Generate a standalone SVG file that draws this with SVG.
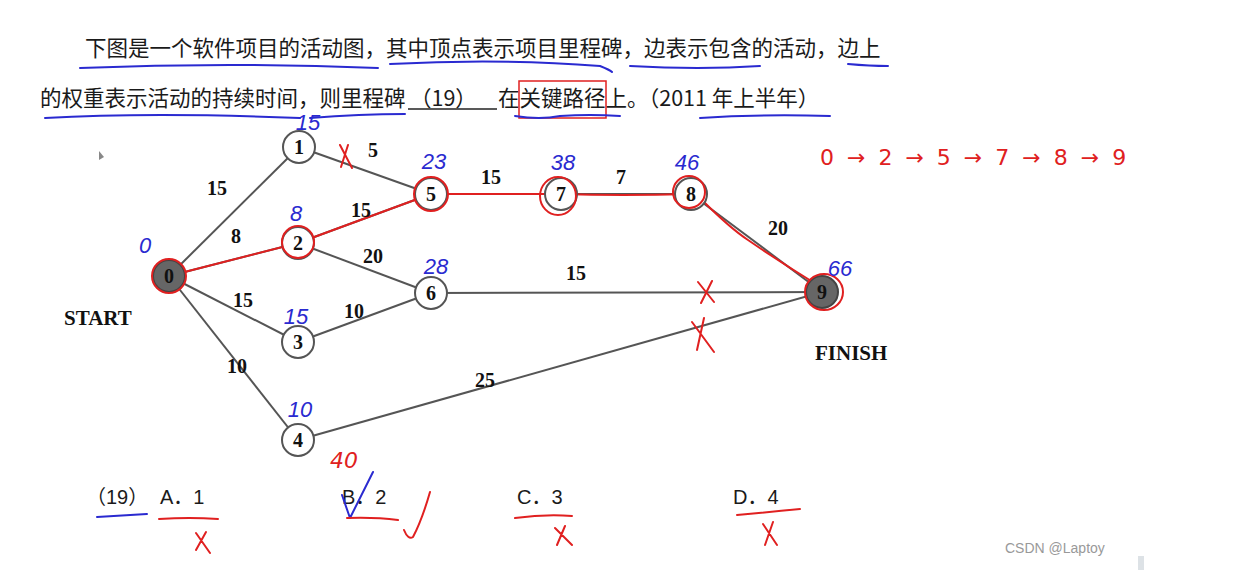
<svg xmlns="http://www.w3.org/2000/svg" width="1238" height="587" viewBox="0 0 1238 587">
<style>
.q{font-family:"Noto Sans CJK SC","Noto Sans",sans-serif;font-size:21.5px;fill:#1a1a1a}
.e{stroke:#555;stroke-width:2;fill:none}
.r{stroke:#e02020;stroke-width:2;fill:none;stroke-linecap:round;stroke-linejoin:round}
.b{stroke:#2a2ad0;stroke-width:2;fill:none;stroke-linecap:round}
.nc{fill:#fff;stroke:#555;stroke-width:2}
.nd{fill:#666;stroke:#444;stroke-width:2}
.nt{font-family:"Liberation Serif",serif;font-weight:bold;font-size:20px;text-anchor:middle;fill:#111}
.w{font-family:"Liberation Serif",serif;font-weight:bold;font-size:20px;text-anchor:middle;fill:#111}
.lb{font-family:"Liberation Serif",serif;font-weight:bold;font-size:21px;fill:#111}
.hb{font-family:"Liberation Sans",sans-serif;font-style:italic;font-size:22px;fill:#2a2ad0;text-anchor:middle}
.hr{font-family:"DejaVu Sans",sans-serif;font-size:22px;fill:#e02020}
.op{font-family:"Liberation Sans","Noto Sans CJK SC",sans-serif;font-size:20px;fill:#1a1a1a}
</style>
<rect width="1238" height="587" fill="#fff"/>

<!-- question text -->
<g id="question">
<text class="q" x="85" y="56">下图是一个软件项目的活动图，其中顶点表示项目里程碑，边表示包含的活动，边上</text>
<text class="q" x="40" y="106">的权重表示活动的持续时间，则里程碑</text>
<text class="q" x="410" y="106">（19）</text>
<line x1="408" y1="109" x2="497" y2="109" stroke="#222" stroke-width="1.5"/>
<text class="q" x="498" y="106">在关键路径上。（2011 年上半年）</text>
<rect x="519" y="81" width="87" height="37" fill="none" stroke="#e02020" stroke-width="1.5"/>
<path class="b" d="M80 68 Q230 62 378 68 M390 64 Q500 58 600 66 Q610 70 612 72 M630 66 Q700 70 760 66 M848 64 Q870 66 888 66 M45 118 Q150 112 300 118 M310 118 Q360 114 405 114 M515 116 Q540 120 560 116 Q590 114 620 116 M700 118 Q760 114 830 116"/>
</g>

<!-- connectors -->
<g id="edges">
<line class="e" x1="169" y1="276" x2="299" y2="147"/>
<line class="e" x1="169" y1="276" x2="298" y2="243"/>
<line class="e" x1="169" y1="276" x2="298" y2="342"/>
<line class="e" x1="169" y1="276" x2="298" y2="440"/>
<line class="e" x1="299" y1="147" x2="431" y2="194"/>
<line class="e" x1="298" y1="243" x2="431" y2="194"/>
<line class="e" x1="298" y1="243" x2="431" y2="293"/>
<line class="e" x1="298" y1="342" x2="431" y2="293"/>
<line class="e" x1="431" y1="194" x2="561" y2="194"/>
<line class="e" x1="561" y1="194" x2="691" y2="194"/>
<line class="e" x1="691" y1="194" x2="822" y2="292"/>
<line class="e" x1="431" y1="293" x2="822" y2="292"/>
<line class="e" x1="298" y1="440" x2="822" y2="292"/>
<path class="r" d="M169 276 L298 243 M298 243 Q360 220 431 194 M431 194 L561 194 M561 194 Q620 196 691 194 M704 202 Q730 228 748 240 Q780 262 816 284"/>
</g>

<g id="edge-labels">
<text class="w" x="217" y="195">15</text>
<text class="w" x="236" y="243">8</text>
<text class="w" x="243" y="307">15</text>
<text class="w" x="237" y="373">10</text>
<text class="w" x="373" y="157">5</text>
<text class="w" x="361" y="217">15</text>
<text class="w" x="373" y="263">20</text>
<text class="w" x="354" y="318">10</text>
<text class="w" x="491" y="184">15</text>
<text class="w" x="621" y="184">7</text>
<text class="w" x="778" y="235">20</text>
<text class="w" x="576" y="280">15</text>
<text class="w" x="485" y="387">25</text>
</g>

<g id="n0"><circle class="nd" cx="169" cy="276" r="16"/><text class="nt" x="169" y="283">0</text><circle class="r" cx="169" cy="276" r="17"/></g>
<g id="n1"><circle class="nc" cx="299" cy="147" r="16"/><text class="nt" x="299" y="154">1</text></g>
<g id="n2"><circle class="nc" cx="298" cy="243" r="16"/><text class="nt" x="298" y="250">2</text><circle class="r" cx="298" cy="242" r="16"/></g>
<g id="n3"><circle class="nc" cx="298" cy="342" r="16"/><text class="nt" x="298" y="349">3</text></g>
<g id="n4"><circle class="nc" cx="298" cy="440" r="16"/><text class="nt" x="298" y="447">4</text></g>
<g id="n5"><circle class="nc" cx="431" cy="194" r="16"/><text class="nt" x="431" y="201">5</text><circle class="r" cx="431" cy="194" r="17"/></g>
<g id="n6"><circle class="nc" cx="431" cy="293" r="16"/><text class="nt" x="431" y="300">6</text></g>
<g id="n7"><circle class="nc" cx="561" cy="194" r="16"/><text class="nt" x="561" y="201">7</text><ellipse class="r" cx="558" cy="196" rx="18" ry="19"/></g>
<g id="n8"><circle class="nc" cx="691" cy="194" r="16"/><text class="nt" x="691" y="201">8</text><circle class="r" cx="689" cy="192" r="16"/></g>
<g id="n9"><circle class="nd" cx="822" cy="292" r="16"/><text class="nt" x="822" y="299">9</text><ellipse class="r" cx="824" cy="292" rx="19" ry="18"/></g>

<g id="labels">
<text class="lb" x="64" y="325">START</text>
<text class="lb" x="815" y="360">FINISH</text>
</g>

<!-- handwritten annotations -->
<g id="notes">
<text class="hb" x="308" y="130">15</text>
<text class="hb" x="434" y="169">23</text>
<text class="hb" x="296" y="221">8</text>
<text class="hb" x="145" y="253" font-size="30">0</text>
<text class="hb" x="436" y="274" font-size="24">28</text>
<text class="hb" x="296" y="324">15</text>
<text class="hb" x="563" y="170">38</text>
<text class="hb" x="687" y="170">46</text>
<text class="hb" x="840" y="276" font-size="24">66</text>
<text class="hb" x="300" y="417">10</text>
<text class="hr" x="330" y="468" font-style="italic">40</text>
<text class="hr" x="820" y="165" font-size="32" letter-spacing="13">0→2→5→7→8→9</text>
<path class="r" d="M340 145 L352 168 M348 145 L341 167 M698 282 L714 302 M712 281 L701 303 M692 322 L714 352 M704 318 L697 350"/>
<path d="M99 151 L104 157 L99 160 Z" fill="#888"/>
</g>

<!-- options -->
<g id="options">
<text class="op" x="86" y="504" font-family="Noto Sans CJK SC,sans-serif" font-size="19">（19）</text>
<text class="op" x="160" y="504">A．1</text>
<text class="op" x="342" y="504">B．2</text>
<text class="op" x="517" y="504">C．3</text>
<text class="op" x="733" y="504">D．4</text>
<path class="b" d="M97 517 L147 514 M342 495 L350 518 M350 518 L373 472"/>
<path class="r" d="M159 519 Q190 517 218 519 M347 518 Q375 517 398 520 M515 518 Q545 514 572 516 M737 515 Q770 512 800 509 M196 533 L210 553 M206 532 L196 550 M555 528 L572 545 M565 526 L557 545 M763 524 L777 545 M773 522 L765 545 M404 530 Q408 540 413 537 Q422 520 430 492"/>
</g>

<g id="watermark">
<text x="1005" y="553" font-family="Liberation Sans,sans-serif" font-size="14" fill="#999">CSDN @Laptoy</text>
<rect x="1138" y="556" width="6" height="14" fill="#dde2e6"/>
</g>
</svg>
